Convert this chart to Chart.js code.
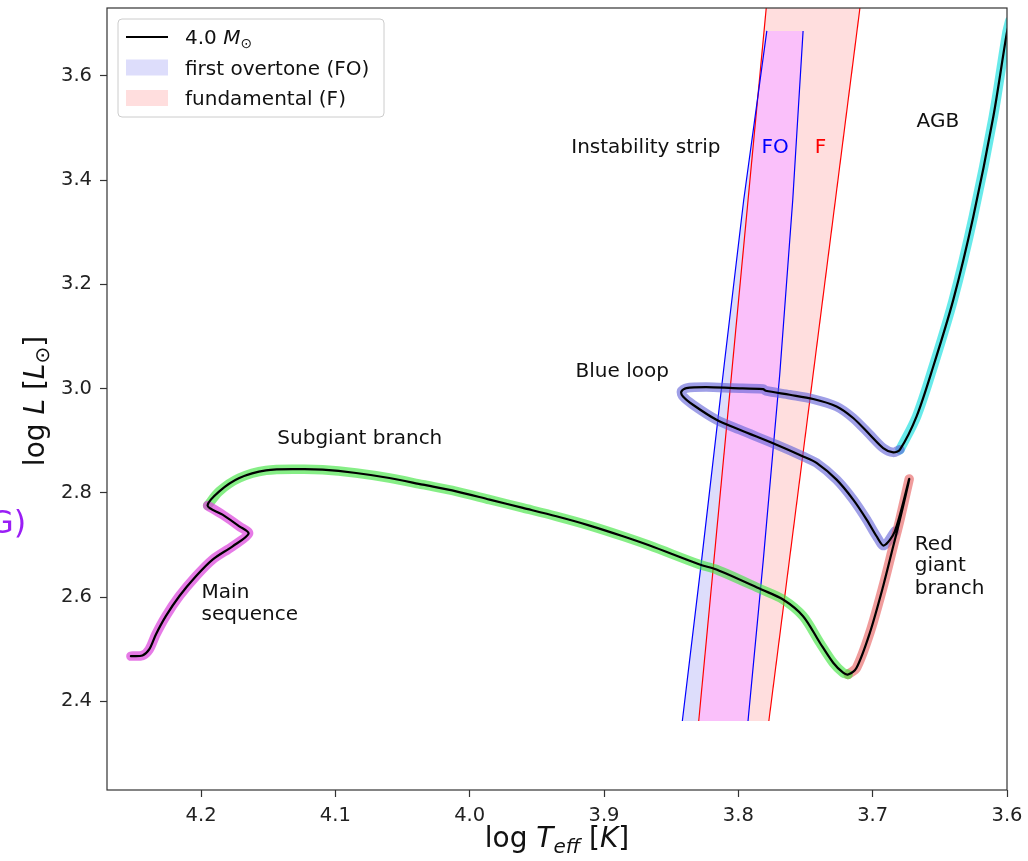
<!DOCTYPE html>
<html>
<head>
<meta charset="utf-8">
<script src="https://cdn.jsdelivr.net/npm/chart.js@4.4.1/dist/chart.umd.min.js"></script>
<style>
  body { margin: 0; background: #fff; }
  #wrap { width: 1028px; height: 861px; position: relative; }
</style>
</head>
<body>
<div id="wrap"><canvas id="hrChart"></canvas></div>
<script>
// axes
const xMin = 3.6, xMax = 4.27;
const yMin = 2.23, yMax = 3.73;
const xTicks = [4.2, 4.1, 4.0, 3.9, 3.8, 3.7, 3.6];
const yTicks = [2.4, 2.6, 2.8, 3.0, 3.2, 3.4, 3.6];

// 4.0 Msun track, one pair of arrays per phase (log Teff, log L)
const msTeff = [4.2522, 4.2436, 4.2386, 4.2336, 4.2262, 4.2162, 4.2038, 4.1914, 4.1765, 4.1646, 4.1715, 4.1840, 4.1951];
const msLum  = [2.4868, 2.4881, 2.4996, 2.5284, 2.5634, 2.6017, 2.6400, 2.6720, 2.6975, 2.7218, 2.7358, 2.7582, 2.7755];

const sgbTeff = [4.1951, 4.1864, 4.1715, 4.1516, 4.1268, 4.1095, 4.0846, 4.0598, 4.0349, 4.0101, 3.9852, 3.9604, 3.9355,
                 3.9107, 3.8859, 3.8660, 3.8288, 3.8163, 3.7828, 3.7667, 3.7518, 3.7393, 3.7294, 3.7220, 3.7183];
const sgbLum  = [2.7755, 2.8029, 2.8285, 2.8431, 2.8454, 2.8444, 2.8381, 2.8285, 2.8157, 2.8029, 2.7870, 2.7711, 2.7550,
                 2.7372, 2.7167, 2.6989, 2.6625, 2.6529, 2.6146, 2.5954, 2.5634, 2.5125, 2.4741, 2.4550, 2.4517];

const rgbTeff = [3.7183, 3.7120, 3.7021, 3.6922, 3.6847, 3.6797, 3.6728];
const rgbLum  = [2.4517, 2.4646, 2.5316, 2.6209, 2.6975, 2.7487, 2.8266];

// starts at the RGB tip, drops back, then the loop
const blTeff = [3.6728, 3.6835, 3.6917, 3.6971, 3.7045, 3.7145, 3.7269, 3.7418, 3.7518, 3.7716, 3.7990, 3.8163, 3.8338, 3.8412,
                3.8424, 3.8387, 3.8238, 3.8040, 3.7816, 3.7796, 3.7617, 3.7443, 3.7269, 3.7145, 3.7021, 3.6922, 3.6847, 3.6797];
const blLum  = [2.8266, 2.7262, 2.6989, 2.7167, 2.7487, 2.7870, 2.8253, 2.8573, 2.8699, 2.8923, 2.9211, 2.9402, 2.9690, 2.9849,
                2.9944, 3.0010, 3.0029, 3.0010, 2.9990, 2.9958, 2.9881, 2.9799, 2.9657, 2.9435, 2.9115, 2.8860, 2.8776, 2.8828];

const agbTeff = [3.6797, 3.6673, 3.6549, 3.6400, 3.6251, 3.6102, 3.6002, 3.5980];
const agbLum  = [2.8828, 2.9466, 3.0423, 3.1701, 3.3297, 3.5213, 3.6810, 3.7050];

// instability strip edges
const foLeftTeff  = [3.8417, 3.8273, 3.8101, 3.7960, 3.7788];
const foLeftLum   = [2.3623, 2.6720, 3.0552, 3.3617, 3.6860];
const foRightTeff = [3.7928, 3.7814, 3.7692, 3.7595, 3.7518];
const foRightLum  = [2.3623, 2.6720, 3.0264, 3.3617, 3.6860];
const fLeftTeff   = [3.8295, 3.7785];
const fLeftLum    = [2.3623, 3.7500];
const fRightTeff  = [3.7773, 3.7085];
const fRightLum   = [2.3623, 3.7500];
// where FO and F overlap
const bothTeff = [3.8295, 3.7849, 3.7788, 3.7518, 3.7595, 3.7692, 3.7814, 3.7928];
const bothLum  = [2.3623, 3.5724, 3.6860, 3.6860, 3.3617, 3.0264, 2.6720, 2.3623];

const legendLabels = ['4.0 ', 'first overtone (FO)', 'fundamental (F)'];

const labels = [
  {text: 'Instability strip', x: 3.9244, y: 3.4613, color: '#111'},
  {text: 'FO', x: 3.7828, y: 3.4613, color: '#0000ff'},
  {text: 'F', x: 3.7431, y: 3.4613, color: '#ff0000'},
  {text: 'AGB', x: 3.6673, y: 3.5117, color: '#111'},
  {text: 'Blue loop', x: 3.9212, y: 3.0328, color: '#111'},
  {text: 'Subgiant branch', x: 4.1432, y: 2.9038, color: '#111'},
  {text: 'Main', x: 4.1996, y: 2.6082, color: '#111'},
  {text: 'sequence', x: 4.1996, y: 2.5667, color: '#111'},
  {text: 'Red', x: 3.6686, y: 2.7008, color: '#111'},
  {text: 'giant', x: 3.6686, y: 2.6592, color: '#111'},
  {text: 'branch', x: 3.6686, y: 2.6159, color: '#111'}
];

function pts(xs, ys) {
  return xs.map((v, i) => ({x: v, y: ys[i]}));
}

const track = pts(msTeff, msLum)
  .concat(pts(sgbTeff, sgbLum).slice(1))
  .concat(pts(rgbTeff, rgbLum).slice(1))
  .concat(pts(blTeff, blLum).slice(1))
  .concat(pts(agbTeff, agbLum).slice(1));

const foShape = pts(foLeftTeff, foLeftLum).concat(pts(foRightTeff, foRightLum).reverse());
const fShape = pts(fLeftTeff, fLeftLum).concat(pts(fRightTeff, fRightLum).reverse());

function halo(data, color, order) {
  return {data: data, showLine: true, borderColor: color, borderWidth: 9.5, tension: 0.3,
          borderCapStyle: 'round', borderJoinStyle: 'round', fill: false, order: order, clip: 0};
}
function edge(data, color) {
  return {data: data, showLine: true, borderColor: color, borderWidth: 1.2, fill: false, order: 6, clip: 0};
}
function area(data, color, order) {
  return {data: data, showLine: true, borderColor: 'transparent', borderWidth: 0, backgroundColor: color,
          fill: 'shape', order: order, clip: 0};
}

const datasets = [
  {data: track, showLine: true, borderColor: '#000', borderWidth: 2.2, tension: 0.3,
   borderCapStyle: 'round', borderJoinStyle: 'round', fill: false, order: 0, clip: 0},
  halo(pts(msTeff, msLum), 'rgba(220,70,220,0.72)', 1),
  halo(pts(sgbTeff, sgbLum), 'rgba(60,228,60,0.62)', 1),
  halo(pts(rgbTeff, rgbLum), 'rgba(230,90,90,0.6)', 1),
  halo(pts(blTeff, blLum).slice(1), 'rgba(95,95,215,0.6)', 1),
  halo(pts(agbTeff, agbLum), 'rgba(40,225,225,0.7)', 1),
  edge(pts(foLeftTeff, foLeftLum), '#0000ff'),
  edge(pts(foRightTeff, foRightLum), '#0000ff'),
  edge(pts(fLeftTeff, fLeftLum), '#ff0000'),
  edge(pts(fRightTeff, fRightLum), '#ff0000'),
  area(pts(bothTeff, bothLum), 'rgb(250,192,250)', 7),
  area(fShape, 'rgba(255,0,0,0.13)', 8),
  area(foShape, 'rgba(30,30,230,0.15)', 9)
];

const FONT = '"DejaVu Sans"';

// draws mixed fonts on one baseline: [text, font, dy]
function drawParts(ctx, parts, x, y, align) {
  let w = 0;
  parts.forEach(p => { ctx.font = p[1]; w += ctx.measureText(p[0]).width; });
  let cx = align === 'center' ? x - w / 2 : x;
  parts.forEach(p => {
    ctx.font = p[1];
    ctx.fillText(p[0], cx, y + (p[2] || 0));
    cx += ctx.measureText(p[0]).width;
  });
}

const decor = {
  id: 'decor',
  afterDatasetsDraw(chart) {
    const {ctx, chartArea: a, scales: {x, y}} = chart;
    ctx.save();
    ctx.strokeStyle = '#333';
    ctx.lineWidth = 1.2;
    ctx.strokeRect(a.left, a.top, a.right - a.left, a.bottom - a.top);

    ctx.textAlign = 'left';
    ctx.textBaseline = 'middle';
    ctx.font = '20px ' + FONT;
    labels.forEach(l => {
      ctx.fillStyle = l.color;
      ctx.fillText(l.text, x.getPixelForValue(l.x), y.getPixelForValue(l.y));
    });
    ctx.restore();
  },
  afterDraw(chart) {
    const {ctx, chartArea: a} = chart;
    ctx.save();

    // legend
    const lx = a.left + 11, ly = a.top + 11, lw = 266, lh = 98;
    ctx.beginPath();
    ctx.roundRect(lx, ly, lw, lh, 4);
    ctx.fillStyle = 'rgba(255,255,255,0.85)';
    ctx.fill();
    ctx.strokeStyle = '#cccccc';
    ctx.lineWidth = 1;
    ctx.stroke();

    const rowY = [ly + 18, ly + 48.5, ly + 79];
    ctx.strokeStyle = '#000';
    ctx.lineWidth = 2.2;
    ctx.beginPath();
    ctx.moveTo(lx + 8, rowY[0]);
    ctx.lineTo(lx + 50, rowY[0]);
    ctx.stroke();
    ctx.fillStyle = 'rgba(30,30,230,0.15)';
    ctx.fillRect(lx + 8, rowY[1] - 8, 42, 16);
    ctx.fillStyle = 'rgba(255,0,0,0.13)';
    ctx.fillRect(lx + 8, rowY[2] - 8, 42, 16);

    ctx.fillStyle = '#111';
    ctx.textBaseline = 'alphabetic';
    ctx.textAlign = 'left';
    drawParts(ctx, [[legendLabels[0], '20px ' + FONT], ['M', 'italic 20px ' + FONT], ['\u2299', '14px ' + FONT, 4]],
              lx + 67, rowY[0] + 7);
    ctx.font = '20px ' + FONT;
    ctx.fillText(legendLabels[1], lx + 67, rowY[1] + 7);
    ctx.fillText(legendLabels[2], lx + 67, rowY[2] + 7);

    // axis titles
    const big = '28px ' + FONT, ital = 'italic 28px ' + FONT;
    drawParts(ctx, [['log ', big], ['T', ital], ['eff', 'italic 20px ' + FONT, 6], [' [', big], ['K', ital], [']', big]],
              (a.left + a.right) / 2, 847, 'center');
    ctx.save();
    ctx.translate(44, (a.top + a.bottom) / 2 + 2);
    ctx.rotate(-Math.PI / 2);
    drawParts(ctx, [['log ', big], ['L', ital], [' [', big], ['L', ital], ['\u2299', '20px ' + FONT, 5], [']', big]],
              0, 0, 'center');
    ctx.restore();

    // clipped label from the neighbouring panel
    ctx.fillStyle = '#9a1ef5';
    ctx.font = '32px ' + FONT;
    ctx.fillText('G)', -11, 533);
    ctx.restore();
  }
};

Chart.defaults.font.family = 'DejaVu Sans';

new Chart(document.getElementById('hrChart'), {
  type: 'scatter',
  data: {datasets: datasets},
  options: {
    responsive: true,
    maintainAspectRatio: false,
    animation: false,
    layout: {padding: {top: 8, right: 21, left: 0, bottom: 0}},
    elements: {point: {radius: 0, hoverRadius: 0}},
    plugins: {legend: {display: false}, tooltip: {enabled: false}},
    scales: {
      x: {
        type: 'linear', reverse: true, min: xMin, max: xMax,
        afterBuildTicks: s => { s.ticks = xTicks.map(v => ({value: v})); },
        afterFit: s => { s.height = 71; s.paddingLeft = 0; s.paddingRight = 0; },
        border: {display: false},
        grid: {drawOnChartArea: false, tickLength: 7, tickColor: '#333', tickWidth: 1.2},
        ticks: {color: '#222', font: {size: 19.5}, padding: 7, maxRotation: 0, callback: v => v.toFixed(1)}
      },
      y: {
        type: 'linear', min: yMin, max: yMax,
        afterBuildTicks: s => { s.ticks = yTicks.map(v => ({value: v})); },
        afterFit: s => { s.width = 107; s.paddingTop = 0; s.paddingBottom = 0; },
        border: {display: false},
        grid: {drawOnChartArea: false, tickLength: 7, tickColor: '#333', tickWidth: 1.2},
        ticks: {color: '#222', font: {size: 19.5}, padding: 8, callback: v => v.toFixed(1)}
      }
    }
  },
  plugins: [decor]
});
</script>
</body>
</html>
